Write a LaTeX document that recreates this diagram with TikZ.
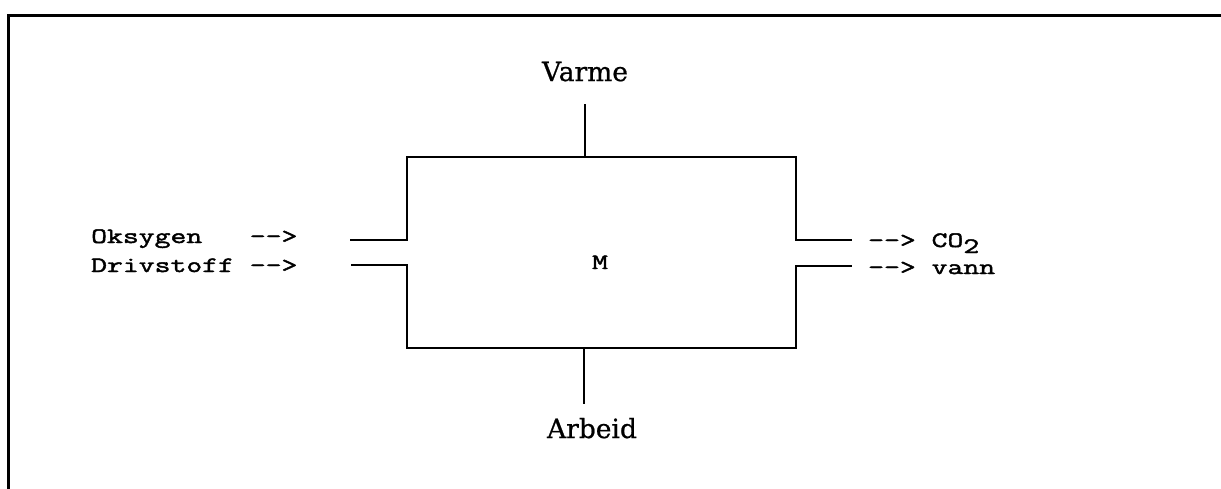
\documentclass[tikz,border=0pt]{standalone}
\usepackage{fontspec}
\newfontfamily\seriffnt[FakeBold=0.8]{DejaVu Serif}
\newfontfamily\monofnt[FakeStretch=1.4,FakeBold=2]{Latin Modern Mono}
\begin{document}
\begin{tikzpicture}[x=1pt,y=-1pt,
  frameline/.style={line width=3pt},
  boxline/.style={line width=2pt},
  mono/.style={font=\monofnt\fontsize{22}{26}\selectfont, inner sep=0pt},
  serif/.style={font=\seriffnt\fontsize{26.5}{30}\selectfont, inner sep=0pt}]
\useasboundingbox (0,0) rectangle (1221,488);
% frame (only top and left edges visible)
\coordinate (fTL) at (8,15);
\coordinate (fTR) at (1225,15);
\coordinate (fBL) at (8,492);
\draw[frameline] (fTR) -- (fTL) -- (fBL);
% box corners and stubs
\coordinate (tl) at (407,157);
\coordinate (tr) at (796,157);
\coordinate (bl) at (407,348);
\coordinate (br) at (796,348);
\coordinate (lu) at (407,240);
\coordinate (ll) at (407,265);
\coordinate (ru) at (796,240);
\coordinate (rl) at (796,266);
\coordinate (luE) at (350,240);
\coordinate (llE) at (351,265);
\coordinate (ruE) at (852,240);
\coordinate (rlE) at (852,266);
\coordinate (tm) at (585,157);
\coordinate (tmE) at (585,104);
\coordinate (bm) at (584,348);
\coordinate (bmE) at (584,404);
\draw[boxline] (luE) -- (lu) -- (tl) -- (tr) -- (ru) -- (ruE);
\draw[boxline] (llE) -- (ll) -- (bl) -- (br) -- (rl) -- (rlE);
\draw[boxline] (tm) -- (tmE);
\draw[boxline] (bm) -- (bmE);
% labels
\node[serif, anchor=base] (varme) at (585,81) {Varme};
\node[serif, anchor=base] (arbeid) at (592,438) {Arbeid};
\node[mono, anchor=base] (m) at (600,269) {M};
\node[mono, anchor=base west] (oks) at (91,243) {Oksygen\ \ \ -{}->};
\node[mono, anchor=base west] (driv) at (91,272) {Drivstoff -{}->};
\node[mono, anchor=base west] (co2) at (868,247) {-{}-> CO\raisebox{-6pt}{2}};
\node[mono, anchor=base west] (vann) at (868,274) {-{}-> vann};
\end{tikzpicture}
\end{document}
